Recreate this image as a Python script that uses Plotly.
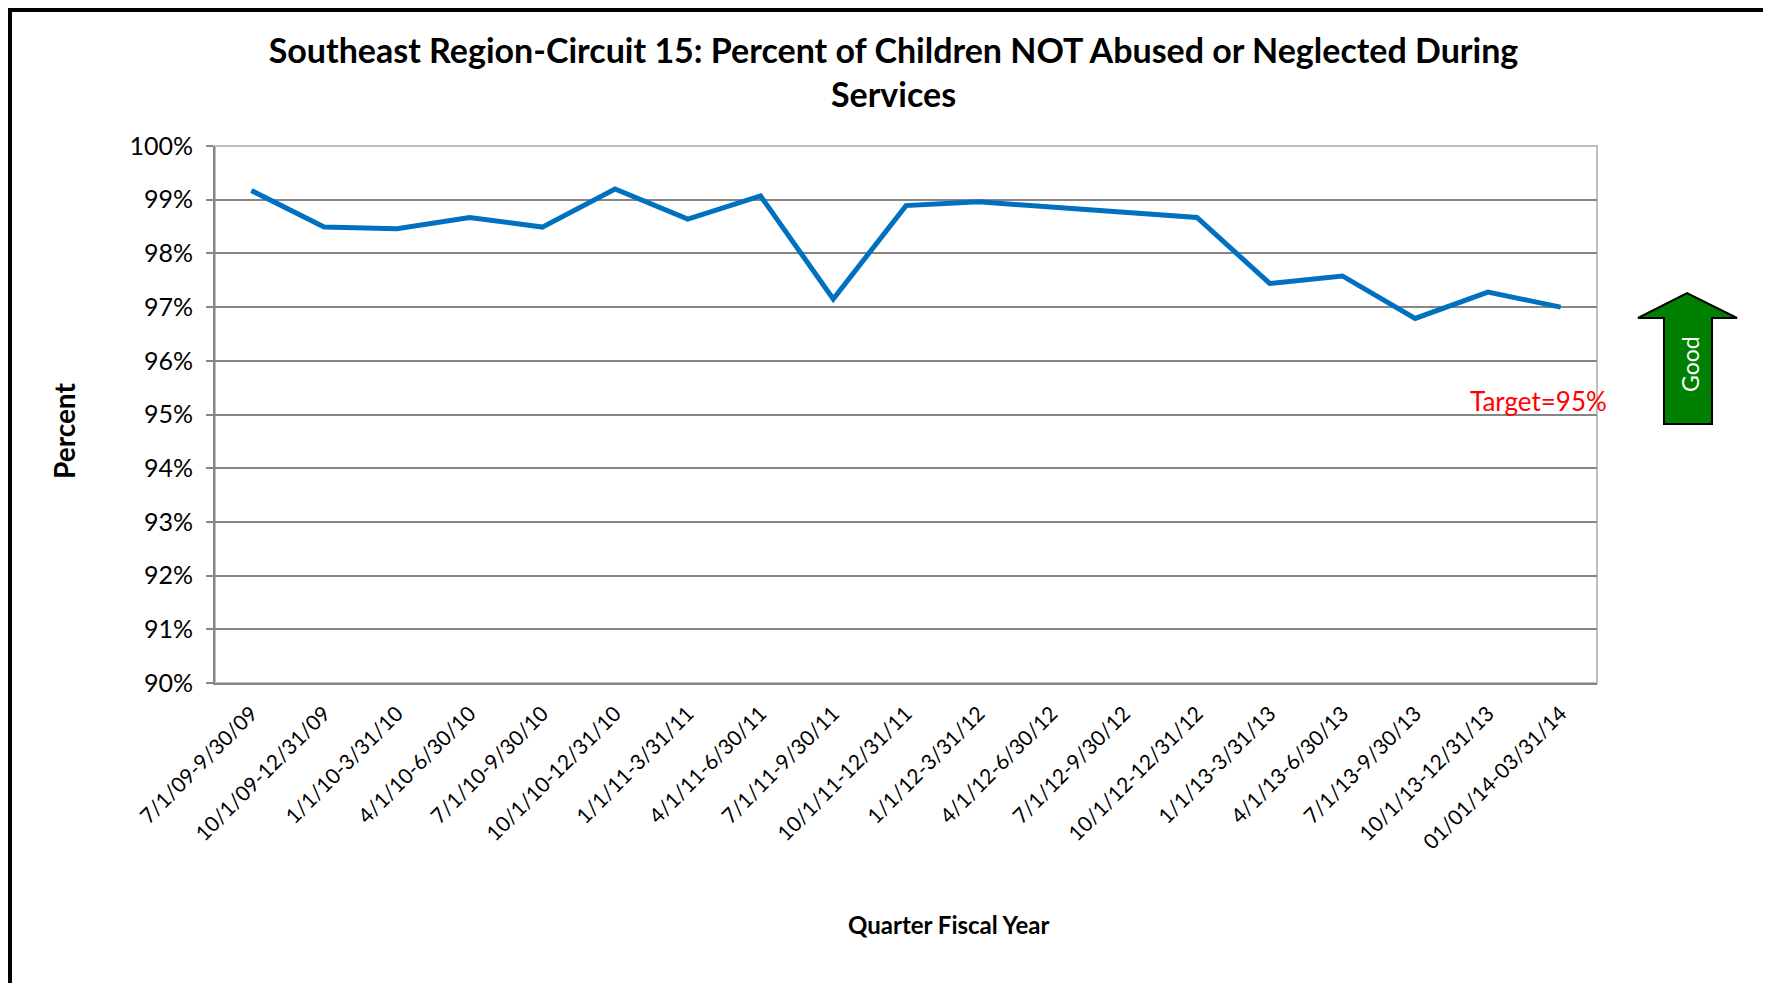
import plotly.graph_objects as go

quarters = [
    "7/1/09-9/30/09", "10/1/09-12/31/09", "1/1/10-3/31/10", "4/1/10-6/30/10",
    "7/1/10-9/30/10", "10/1/10-12/31/10", "1/1/11-3/31/11", "4/1/11-6/30/11",
    "7/1/11-9/30/11", "10/1/11-12/31/11", "1/1/12-3/31/12", "4/1/12-6/30/12",
    "7/1/12-9/30/12", "10/1/12-12/31/12", "1/1/13-3/31/13", "4/1/13-6/30/13",
    "7/1/13-9/30/13", "10/1/13-12/31/13", "01/01/14-03/31/14",
]
pct_not_abused = [
    99.17, 98.49, 98.46, 98.67, 98.49, 99.20, 98.64, 99.07, 97.15, 98.89,
    98.96, 98.86, 98.78, 98.67, 97.44, 97.58, 96.79, 97.28, 97.00,
]
y_ticks = [90, 91, 92, 93, 94, 95, 96, 97, 98, 99, 100]
y_tick_text = [f"{v}%" for v in y_ticks]

W, H = 1771, 983
OFF = 8  # page body margin
# plot area in screen pixels: x 215..1597, y 146..683
L, T = 215 - OFF, 146 - OFF
PW, PH = 1382, 537
R, B = W - L - PW, H - T - PH


def px(x):
    return (x - OFF - L) / PW


def py(y):
    return (T + PH - (y - OFF)) / PH


FONT = "Lato"

fig = go.Figure()

fig.add_trace(go.Scatter(
    x=quarters,
    y=pct_not_abused,
    mode="lines",
    line=dict(color="#0070C0", width=5),
    hoverinfo="x+y",
))

# green "Good" arrow, outer frame, plot-area border
arrow = (f"M {px(1664)} {py(424)} L {px(1664)} {py(318)} L {px(1638)} {py(318)} "
         f"L {px(1687)} {py(293)} L {px(1737)} {py(318)} L {px(1712)} {py(318)} "
         f"L {px(1712)} {py(424)} Z")
shapes = [
    dict(type="rect", xref="paper", yref="paper", x0=0, x1=1, y0=0, y1=1,
         line=dict(color="#BFBFBF", width=2), layer="below"),
    dict(type="path", xref="paper", yref="paper", path=arrow,
         fillcolor="#008000", line=dict(color="black", width=2)),
    dict(type="rect", xref="paper", yref="paper",
         x0=px(10), x1=px(1765), y0=py(1010), y1=py(10),
         line=dict(color="black", width=4)),
]

annotations = [
    dict(text="Target=95%", xref="paper", yref="paper", x=px(1538), y=py(401),
         xanchor="center", yanchor="middle",
         showarrow=False, font=dict(family=FONT, size=26, color="#FF0000")),
    dict(text="Good", xref="paper", yref="paper", x=px(1690), y=py(364),
         xanchor="center", yanchor="middle",
         showarrow=False, textangle=-90, font=dict(family=FONT, size=23, color="white")),
    dict(text="<b>Percent</b>", xref="paper", yref="paper", x=px(64), y=py(431),
         xanchor="center", yanchor="middle",
         showarrow=False, textangle=-90, font=dict(family=FONT, size=28, color="black")),
    dict(text="<b>Quarter Fiscal Year</b>", xref="paper", yref="paper", x=px(949), y=py(924),
         xanchor="center", yanchor="middle",
         showarrow=False, font=dict(family=FONT, size=24, color="black")),
]

fig.update_layout(
    width=W,
    height=H,
    margin=dict(l=L, r=R, t=T, b=B),
    paper_bgcolor="white",
    plot_bgcolor="white",
    showlegend=False,
    font=dict(family=FONT, color="black"),
    title=dict(
        text="<b>Southeast Region-Circuit 15: Percent of Children NOT Abused or Neglected During<br>Services</b>",
        x=0.5, xref="container", xanchor="center",
        y=1 - 55 / H, yref="container", yanchor="middle",
        font=dict(family=FONT, size=34, color="black"),
    ),
    shapes=shapes,
    annotations=annotations,
)

fig.update_xaxes(
    type="category",
    range=[-0.5, len(quarters) - 0.5],
    tickangle=-45,
    tickfont=dict(family=FONT, size=21, color="black"),
    showgrid=False,
    showline=True,
    linecolor="#868686",
    linewidth=2,
    ticks="",
    ticklabelstandoff=8,
)

fig.update_yaxes(
    range=[90, 100],
    tickvals=y_ticks,
    ticktext=y_tick_text,
    tickfont=dict(family=FONT, size=25, color="black"),
    showgrid=True,
    gridcolor="#868686",
    gridwidth=2,
    showline=True,
    linecolor="#868686",
    linewidth=2,
    ticks="outside",
    ticklen=7,
    tickcolor="#868686",
    tickwidth=2,
    ticklabelstandoff=8,
    zeroline=False,
)

fig.write_html("out.html")
